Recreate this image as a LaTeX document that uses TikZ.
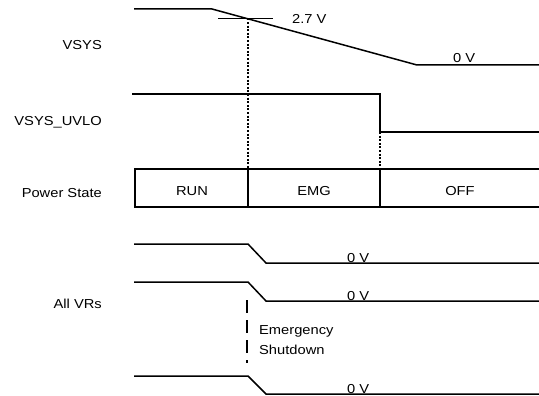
\documentclass[tikz,border=0pt]{standalone}
\usepackage{fontspec}
\setmainfont{Liberation Sans}[FakeStretch=1.13]
\begin{document}
\begin{tikzpicture}[x=1pt,y=-1pt,
  wave/.style={line width=1.5pt, line join=miter},
  dotline/.style={line width=1.5pt, dash pattern=on 2pt off 1.6pt},
  dashline/.style={line width=1.5pt, dash pattern=on 13pt off 7pt},
  lbl/.style={font=\fontsize{13}{15}\selectfont, inner sep=0pt}]
\useasboundingbox (0,0) rectangle (539,396);
% left labels
\node[lbl, anchor=base east] (lvsys) at (102,50) {VSYS};
\node[lbl, anchor=base east] (luvlo) at (102,126) {VSYS\_UVLO};
\node[lbl, anchor=base east] (lps) at (102,197) {Power State};
\node[lbl, anchor=base east] (lvr) at (102,308) {All VRs};
% VSYS
\coordinate (vs0) at (134,9);
\coordinate (vs1) at (212,9);
\coordinate (vs2) at (417,65);
\coordinate (vs3) at (539,65);
\draw[wave] (vs0) -- (vs1) -- (vs2) -- (vs3);
\coordinate (tk0) at (218,18.5);
\coordinate (tk1) at (273,18.5);
\draw[wave] (tk0) -- (tk1);
\node[lbl, anchor=base west] (v27) at (292,24) {2.7 V};
\node[lbl, anchor=base west] (v0a) at (453,63) {0 V};
% UVLO
\coordinate (u0) at (132,94);
\coordinate (u1) at (380,94);
\coordinate (u2) at (380,132);
\coordinate (u3) at (539,132);
\draw[wave] (u0) -- (u1) -- (u2) -- (u3);
% Power state box
\coordinate (b0) at (135,169);
\coordinate (b1) at (135,207);
\coordinate (d1t) at (248,169);
\coordinate (d1b) at (248,207);
\coordinate (d2t) at (380,169);
\coordinate (d2b) at (380,207);
\draw[wave] (539,169) -- (b0) -- (b1) -- (539,207);
\draw[wave] (d1t) -- (d1b);
\draw[wave] (d2t) -- (d2b);
\node[lbl, anchor=base] (run) at (192,195) {RUN};
\node[lbl, anchor=base] (emg) at (314,195) {EMG};
\node[lbl, anchor=base] (off) at (460,195) {OFF};
% dotted markers
\draw[dotline] (248,18.5) -- (d1t);
\draw[dotline] (u2) -- (d2t);
% VRs
\foreach \hy/\ly/\nm in {244/263/a, 282/301/b, 376/394/c}{
  \draw[wave] (134,\hy) -- (248,\hy) -- (266,\ly) -- (539,\ly);
}
\node[lbl, anchor=base west] (v0b) at (347,262) {0 V};
\node[lbl, anchor=base west] (v0c) at (347,300) {0 V};
\node[lbl, anchor=base west] (v0d) at (347,393) {0 V};
\coordinate (es0) at (247,300);
\coordinate (es1) at (247,363);
\draw[dashline] (es0) -- (es1);
\node[lbl, anchor=base west] (em1) at (259,334) {Emergency};
\node[lbl, anchor=base west] (em2) at (259,354) {Shutdown};
\end{tikzpicture}
\end{document}
